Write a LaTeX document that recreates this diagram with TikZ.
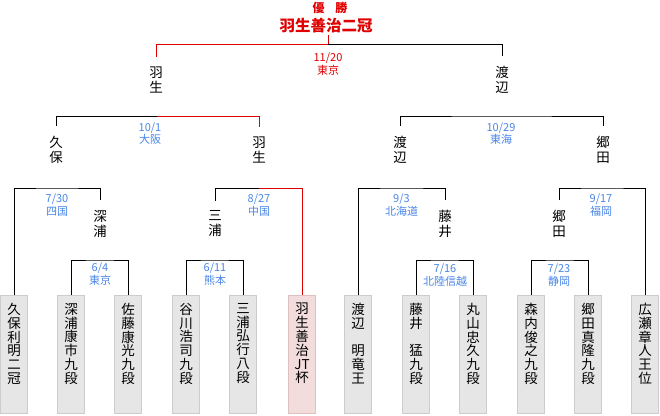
\documentclass[tikz,border=0pt]{standalone}
\usepackage{fontspec}
\setmainfont{Noto Sans CJK JP}
\definecolor{winred}{RGB}{224,0,0}
\definecolor{dateblue}{RGB}{74,134,232}
\definecolor{boxfill}{RGB}{230,230,230}
\definecolor{boxline}{RGB}{204,204,204}
\definecolor{winfill}{RGB}{243,220,220}
\definecolor{winline}{RGB}{222,192,192}
\tikzset{
  conn/.style={line width=1pt, black},
  winconn/.style={line width=1pt, winred},
  player/.style={draw=boxline, fill=boxfill, line width=1pt, minimum width=27pt, minimum height=118pt, inner sep=0pt},
  winplayer/.style={player, draw=winline, fill=winfill},
  boxtext/.style={anchor=north, inner sep=0pt, align=center, font=\fontsize{13.5}{13.8}\selectfont},
  pname/.style={inner xsep=1pt, inner ysep=10pt, align=center, font=\fontsize{13.5}{15}\selectfont},
  datelbl/.style={inner sep=0pt, align=center, text=dateblue, font=\fontsize{11}{12.5}\selectfont},
}
\begin{document}
\begin{tikzpicture}[x=1pt,y=-1pt]
\fill[white] (0,0) rectangle (660,415);
\useasboundingbox (0,0) rectangle (660,415);

% title
\node[inner sep=0pt, text=winred, font=\fontsize{12}{12}\selectfont\bfseries] (champ) at (330,8) {優\hspace{0.9em}勝};
\node[inner sep=1pt, text=winred, font=\fontsize{15.5}{15.5}\selectfont\bfseries] (title) at (326,26) {羽生善治二冠};

% boxes
\node[player] (b1) at (14,354) {};
\node[player] (b2) at (71,354) {};
\node[player] (b3) at (128,354) {};
\node[player] (b4) at (186,354) {};
\node[player] (b5) at (243,354) {};
\node[winplayer] (b6) at (302,354) {};
\node[player] (b7) at (358,354) {};
\node[player] (b8) at (416,354) {};
\node[player] (b9) at (473,354) {};
\node[player] (b10) at (531,354) {};
\node[player] (b11) at (588,354) {};
\node[player] (b12) at (645,354) {};

\node[boxtext] (t1) at ([yshift=-8.5pt]b1.north) {久\\保\\利\\明\\二\\冠};
\node[boxtext] (t2) at ([yshift=-8.5pt]b2.north) {深\\浦\\康\\市\\九\\段};
\node[boxtext] (t3) at ([yshift=-8.5pt]b3.north) {佐\\藤\\康\\光\\九\\段};
\node[boxtext] (t4) at ([yshift=-8.5pt]b4.north) {谷\\川\\浩\\司\\九\\段};
\node[boxtext] (t5) at ([yshift=-8.5pt]b5.north) {三\\浦\\弘\\行\\八\\段};
\node[boxtext] (t6) at ([yshift=-8.5pt]b6.north) {羽\\生\\善\\治\\JT\\杯};
\node[boxtext] (t7) at ([yshift=-8.5pt]b7.north) {渡\\辺\\　\\明\\竜\\王};
\node[boxtext] (t8) at ([yshift=-8.5pt]b8.north) {藤\\井\\　\\猛\\九\\段};
\node[boxtext] (t9) at ([yshift=-8.5pt]b9.north) {丸\\山\\忠\\久\\九\\段};
\node[boxtext] (t10) at ([yshift=-8.5pt]b10.north) {森\\内\\俊\\之\\九\\段};
\node[boxtext] (t11) at ([yshift=-8.5pt]b11.north) {郷\\田\\真\\隆\\九\\段};
\node[boxtext] (t12) at ([yshift=-8.5pt]b12.north) {広\\瀬\\章\\人\\王\\位};

% names
\node[pname] (n1L) at (156,80) {羽\\生};
\node[pname] (n1R) at (502,80) {渡\\辺};
\node[pname] (n2a) at (56,150) {久\\保};
\node[pname] (n2b) at (259,150) {羽\\生};
\node[pname] (n2c) at (400,150) {渡\\辺};
\node[pname] (n2d) at (603,150) {郷\\田};
\node[pname] (n3a) at (100,224) {深\\浦};
\node[pname] (n3b) at (215,224) {三\\浦};
\node[pname] (n3c) at (445,224) {藤\\井};
\node[pname] (n3d) at (559,224) {郷\\田};

% bracket mid points
\coordinate (m1) at (328,44);
\coordinate (m2L) at (157,116);
\coordinate (m2R) at (501.5,116);
\coordinate (mA) at (57,188);
\coordinate (mB) at (259,188);
\coordinate (mC) at (401.5,188);
\coordinate (mD) at (602,188);
\coordinate (mE) at (99.5,260);
\coordinate (mF) at (214.5,260);
\coordinate (mG) at (444.5,260);
\coordinate (mH) at (559.5,260);

% connectors
\draw[winconn] (m1) -- (m1 |- title.south);
\draw[winconn] (n1L.north) |- (m1);
\draw[conn] (m1) -| (n1R.north);

\draw[conn] (n2a.north) |- (m2L);
\draw[winconn] (m2L) -| (n2b.north);
\draw[conn] (n2c.north) |- (m2R) -| (n2d.north);

\draw[conn] (b1.north) |- (mA) -| (n3a.north);
\draw[conn] (n3b.north) |- (mB);
\draw[winconn] (mB) -| (b6.north);
\draw[conn] (b7.north) |- (mC) -| (n3c.north);
\draw[conn] (n3d.north) |- (mD) -| (b12.north);

\draw[conn] (b2.north) |- (mE) -| (b3.north);
\draw[conn] (b4.north) |- (mF) -| (b5.north);
\draw[conn] (b8.north) |- (mG) -| (b9.north);
\draw[conn] (b10.north) |- (mH) -| (b11.north);

% dates
\node[datelbl, text=winred] (d1) at (328,64) {11/20\\東京};
\node[datelbl] (d2L) at (150,133.5) {10/1\\大阪};
\node[datelbl] (d2R) at (501,133.5) {10/29\\東海};
\node[datelbl] (dA) at (57,205) {7/30\\四国};
\node[datelbl] (dB) at (259,205) {8/27\\中国};
\node[datelbl] (dC) at (401.5,205) {9/3\\北海道};
\node[datelbl] (dD) at (601,205) {9/17\\福岡};
\node[datelbl] (dE) at (100,274) {6/4\\東京};
\node[datelbl] (dF) at (215,274) {6/11\\熊本};
\node[datelbl] (dG) at (445,275) {7/16\\北陸信越};
\node[datelbl] (dH) at (559,275) {7/23\\静岡};
\end{tikzpicture}
\end{document}
